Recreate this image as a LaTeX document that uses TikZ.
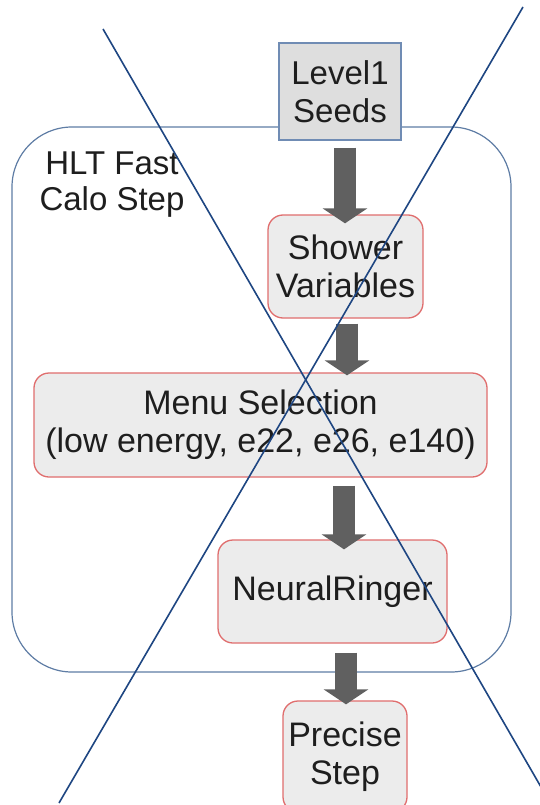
\documentclass[tikz,border=0pt]{standalone}
\usepackage{fontspec}
\setmainfont{Liberation Sans}
\usetikzlibrary{arrows.meta}
\definecolor{redline}{RGB}{224,110,110}
\definecolor{boxfill}{RGB}{236,236,236}
\definecolor{seedfill}{RGB}{222,222,222}
\definecolor{seedline}{RGB}{112,140,180}
\definecolor{contline}{RGB}{95,125,165}
\definecolor{arrowgray}{RGB}{96,96,96}
\definecolor{crossblue}{RGB}{30,70,130}
\definecolor{txt}{RGB}{30,30,30}
\tikzset{
  stepbox/.style={draw=redline, line width=1.3pt, fill=boxfill, rounded corners=15pt,
    align=center, text=txt, font=\fontsize{34}{38}\selectfont, inner sep=0pt},
  seedbox/.style={draw=seedline, line width=1.3pt, fill=seedfill,
    align=center, text=txt, font=\fontsize{33}{38}\selectfont, inner sep=0pt},
  container/.style={draw=contline, line width=1.2pt, rounded corners=60pt, inner sep=0pt},
  flow/.style={draw=arrowgray, line width=22pt, line cap=butt,
    -{Triangle[length=15pt, width=44pt]}},
  cross/.style={draw=crossblue, line width=1.6pt}
}
\begin{document}
\begin{tikzpicture}[x=1pt,y=-1pt]
\useasboundingbox (0,0) rectangle (539,805);
\fill[white] (0,0) rectangle (539,805);
\node[container, minimum width=499pt, minimum height=545pt] (cont) at (261.5,399.5) {};
\node[align=center, text=txt, font=\fontsize{33}{36}\selectfont, inner sep=0pt] (hlt) at (112,185) {HLT Fast\\Calo Step};
\node[seedbox, minimum width=122pt, minimum height=97pt] (seeds) at (340,91.5) {Level1\\Seeds};
\node[stepbox, minimum width=155pt, minimum height=103pt] (shower) at (345.5,266.5) {Shower\\Variables};
\node[stepbox, minimum width=453pt, minimum height=104pt] (menu) at (260.5,425) {Menu Selection\\(low energy, e22, e26, e140)};
\node[stepbox, minimum width=229pt, minimum height=103pt] (neural) at (332.5,591.5) {NeuralRinger};
\node[stepbox, minimum width=124pt, minimum height=111pt] (precise) at (345,756.5) {Precise\\Step};
\draw[flow, shorten <=7pt, shorten >=0pt] (seeds.south -| 345,0) -- ([yshift=-9pt]shower.north -| 345,0);
\draw[flow, shorten <=5pt] (shower.south -| 347,0) -- ([yshift=-3pt]menu.north -| 347,0);
\draw[flow, shorten <=8pt] (menu.south -| 344,0) -- ([yshift=-10pt]neural.north -| 344,0);
\draw[flow, shorten <=9pt] (neural.south -| 346,0) -- ([yshift=-4pt]precise.north -| 346,0);
\coordinate (a1) at (103,29);
\coordinate (a2) at (541,787);
\coordinate (b1) at (523,7);
\coordinate (b2) at (59,803);
\draw[cross] (a1) -- (a2);
\draw[cross] (b1) -- (b2);
\end{tikzpicture}
\end{document}
